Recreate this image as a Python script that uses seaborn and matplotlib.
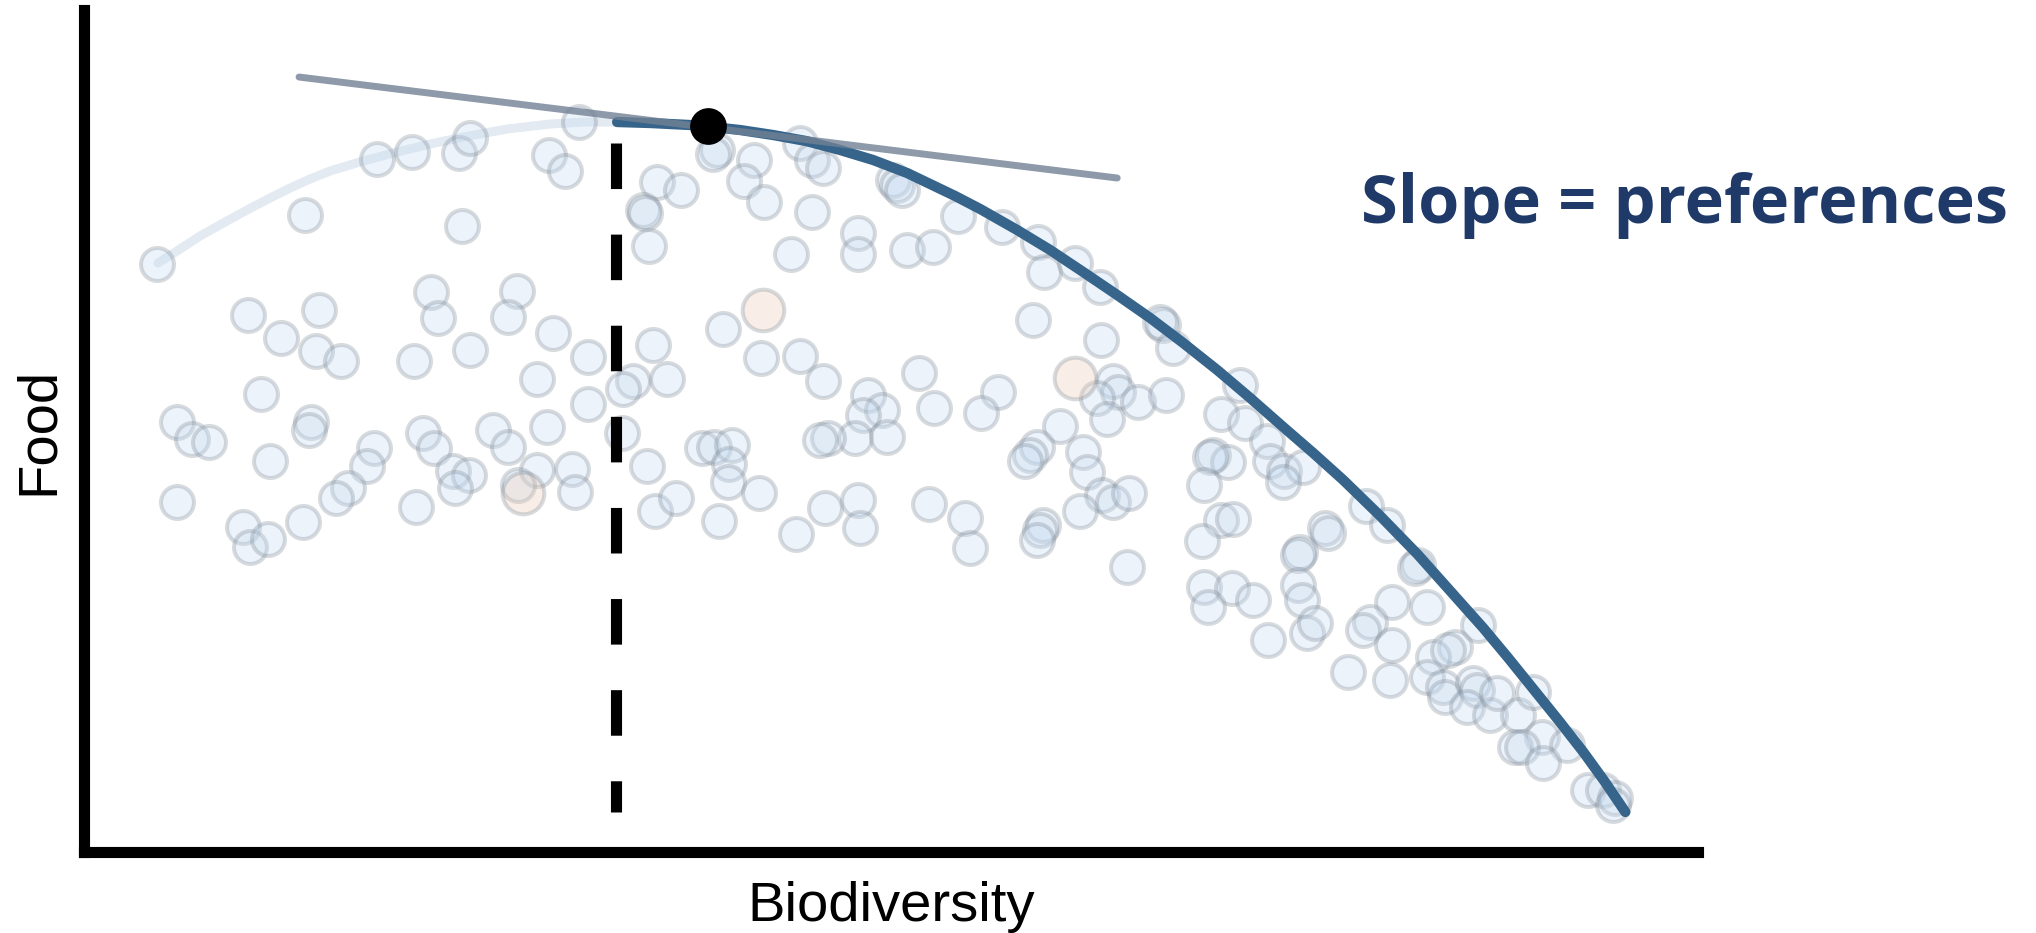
import numpy as np
import pandas as pd
import seaborn as sns
import matplotlib.pyplot as plt

# countries / regions (blue)
biodiversity = [157, 305, 377, 412, 459, 470, 462, 549, 248, 319,
                281, 316, 341, 431, 438, 517, 508, 470, 414, 553,
                537, 261, 177, 192, 209, 311, 309, 270, 374, 367,
                423, 434, 493, 508, 547, 453, 469, 455, 537, 518,
                348, 336, 416, 177, 243, 250, 268, 303,
                579, 565, 657, 681, 643, 645, 649, 717, 713, 754,
                744, 764, 800, 812, 823, 812, 858, 858, 791, 907,
                933, 893, 897, 902, 958, 723, 761, 800, 823, 919,
                934, 868, 882, 863, 855, 887, 828, 820, 588, 653,
                633, 623, 667, 588, 622, 647, 572, 702, 714, 732,
                729,
                575, 655, 676, 728, 719, 759, 796, 825, 858, 860,
                929, 965, 970,
                1002, 1038, 1044, 1075, 1100, 1033, 1101, 1163, 1160, 1173,
                1240, 998, 981, 1113, 1118, 1097, 1107, 1138, 1166, 1060,
                1037, 1030, 1025, 1083, 1087, 1221, 1245, 1267, 1270, 1213,
                1228, 1284, 1303,
                1102, 1113, 1129, 1080, 1043, 1040, 1037, 1127, 1210, 1283,
                1204, 1221, 1233, 1202, 1325, 1328, 1300, 1298, 1366, 1298,
                1204, 1232, 1253,
                1387, 1418, 1415, 1208, 1302, 1307, 1315, 1268, 1392, 1427,
                1370, 1363, 1392, 1348, 1390, 1478, 1455, 1433, 1448, 1427,
                1443, 1445, 1473, 1477, 1467, 1490, 1497, 1518, 1533, 1542,
                1567, 1515, 1522, 1543, 1588, 1603, 1615, 1613]
food = [636, 685, 741, 748, 747, 762, 674, 745, 585, 590,
        562, 549, 539, 608, 582, 609, 583, 550, 539, 567,
        521, 506, 478, 461, 458, 478, 470, 439, 452, 434,
        467, 452, 470, 453, 473, 429, 425, 412, 430, 415,
        412, 402, 393, 398, 373, 353, 361, 378,
        778, 729, 718, 710, 690, 687, 654, 750, 746, 740,
        719, 698, 757, 740, 732, 688, 667, 646, 646, 650,
        653, 720, 715, 710, 684, 571, 542, 544, 519, 527,
        492, 505, 490, 485, 462, 463, 462, 460, 543, 555,
        519, 511, 521, 496, 467, 434, 431, 452, 453, 455,
        436,
        408, 389, 402, 418, 379, 407, 366, 392, 400, 372,
        396, 382, 352,
        673, 658, 628, 637, 613, 580, 560, 575, 578, 552,
        515, 508, 487, 519, 508, 502, 481, 498, 505, 474,
        453, 445, 439, 448, 428, 486, 477, 459, 439, 445,
        438, 429, 433,
        405, 398, 407, 389, 375, 370, 360, 333, 443, 418,
        415, 380, 381, 359, 372, 367, 348, 345, 394, 315,
        313, 312, 300,
        375, 335, 332, 293, 300, 267, 277, 260, 298, 293,
        278, 270, 255, 228, 220, 275, 253, 243, 250, 223,
        213, 203, 217, 210, 193, 185, 207, 185, 208, 163,
        155, 153, 153, 137, 110, 110, 102, 95]

# highlighted points (orange)
hl_biodiversity = [523, 763, 1075]
hl_food = [407, 590, 522]

# frontier: light part and dark part
frontier_lo_x = [158, 180, 200, 225, 247, 270, 290, 310, 330, 363,
                 397, 430, 463, 507, 550, 585, 617]
frontier_lo_y = [637, 651, 664, 678, 690, 702, 712, 721, 729, 739,
                 748, 756, 763, 771, 776, 778, 778]
frontier_x = [617, 650, 690, 708, 740, 773, 806, 840, 873, 907,
              955, 980, 1017, 1050, 1083, 1117, 1150, 1183, 1217, 1250,
              1283, 1313, 1343, 1380, 1417, 1450, 1483, 1508, 1533, 1558,
              1583, 1604, 1625]
frontier_y = [778, 777, 775, 773.5, 770, 765, 759, 750, 740, 727,
              704, 691, 670, 650, 628, 605, 582, 557, 530, 502,
              473, 447, 420, 384, 346, 309, 272, 242, 211, 180,
              148, 119, 88]

# tangent line and optimum
tangent_x = [299, 1117]
tangent_y = [823, 722]
opt_x = [708]
opt_y = [774]
cut_x = [616, 616]
cut_y = [757, 88]

sns.set_style("white")
plt.rcParams["font.family"] = ["Liberation Sans", "DejaVu Sans"]

fig = plt.figure(figsize=(20.36, 9.33), dpi=100)
ax = fig.add_axes([0.04126, 0.08735, 0.7929, 0.9019])

sns.lineplot(x=frontier_lo_x, y=frontier_lo_y, ax=ax, color="#e3eaf2", linewidth=6.5,
             sort=False, estimator=None, zorder=1)

pts = pd.DataFrame({"Biodiversity": biodiversity, "Food": food})
sns.scatterplot(data=pts, x="Biodiversity", y="Food", ax=ax, s=565, color="#c4daf0",
                edgecolor="#7d8894", linewidth=2.9, alpha=0.3, zorder=2)
sns.scatterplot(x=hl_biodiversity, y=hl_food, ax=ax, s=900, color="#e8c9b2",
                edgecolor="#7d8894", linewidth=2.9, alpha=0.3, zorder=2)

sns.lineplot(x=frontier_x, y=frontier_y, ax=ax, color="#36648b", linewidth=7.4,
             sort=False, estimator=None, zorder=3)
sns.lineplot(x=tangent_x, y=tangent_y, ax=ax, color="#728195", alpha=0.8, linewidth=5,
             sort=False, estimator=None, zorder=4)
ax.plot(cut_x, cut_y, color="black", linewidth=8, dashes=(4.1, 4.1), zorder=5,
        solid_capstyle="butt", dash_capstyle="butt")
sns.scatterplot(x=opt_x, y=opt_y, ax=ax, s=700, color="black", linewidth=0, zorder=6)

ax.set_xlim(84, 1698)
ax.set_ylim(48.5, 890)
ax.set_xticks([])
ax.set_yticks([])
sns.despine(ax=ax)
for side in ["left", "bottom"]:
    ax.spines[side].set_linewidth(8)
    ax.spines[side].set_color("black")

ax.set_xlabel("Biodiversity", fontsize=40.5, labelpad=21, color="black")
ax.set_ylabel("Food", fontsize=40.5, labelpad=14, color="black")

fig.text(0.6685, 0.761, "Slope = preferences", fontsize=48, fontweight="bold",
         family="Open Sans", color="#1f3a68", va="baseline", ha="left")

fig.savefig("out.png", dpi=100)
